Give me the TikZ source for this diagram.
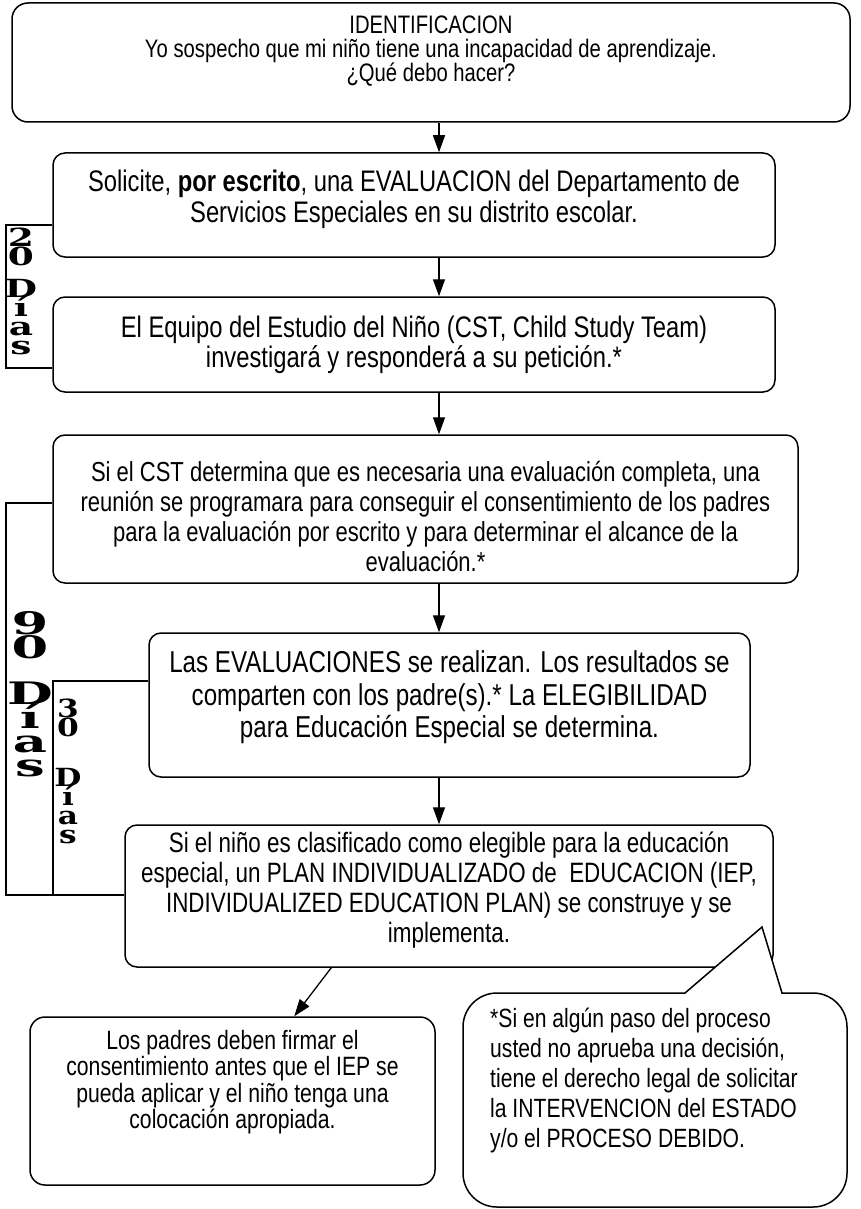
\documentclass[tikz,border=0pt]{standalone}
\usepackage{fontspec}
\setmainfont{Liberation Sans}[FakeStretch=0.8]
\newfontfamily\daysfont{DejaVu Serif}
\usepackage{graphicx}
\usetikzlibrary{arrows.meta,calc}
\def\boxbody#1#2#3#4{\begin{minipage}[c][#2pt][t]{#1pt}\centering\lineskiplimit=-50pt\vspace*{#3pt}#4\end{minipage}}
\def\daystack#1#2{\scalebox{#1}[1]{\parbox{1.2em}{\centering\lineskiplimit=-50pt #2}}}
\tikzset{
	flowbox/.style={draw, line width=1.5pt, rounded corners=12pt, inner sep=0pt},
	arr/.style={line width=1.3pt, -{Triangle[width=12pt,length=17pt]}},
	brk/.style={line width=1.5pt},
	days/.style={anchor=north, inner sep=0pt},
	bubble/.style={draw, line width=1.5pt, fill=white}
}

\begin{document}
\begin{tikzpicture}[x=1pt, y=-1pt]
			%%%%% START %%%%%
			\useasboundingbox (0,0) rectangle (861,1209);
			
			\node[flowbox, rounded corners=16pt, font=\fontsize{25.3}{24}\selectfont] (b1) at (431,62.5) {\boxbody{838}{119}{13}{IDENTIFICACION\\Yo sospecho que mi niño tiene una incapacidad de aprendizaje.\\¿Qué debo hacer?}};
			\node[flowbox, font=\fontsize{29.7}{31}\selectfont] (b2) at (414,205) {\boxbody{722}{104}{17}{Solicite, \textbf{por escrito}, una EVALUACION del Departamento de\\Servicios Especiales en su distrito escolar.}};
			\node[flowbox, font=\fontsize{29.7}{30}\selectfont] (b3) at (414,344.5) {\boxbody{722}{95}{19}{El Equipo del Estudio del Niño (CST, Child Study Team)\\investigará y responderá a su petición.*}};
			\node[flowbox, font=\fontsize{27.5}{30}\selectfont] (b4) at (425.5,509) {\boxbody{745}{148}{26}{Si el CST determina que es necesaria una evaluación completa, una\\reunión se programara para conseguir el consentimiento de los padres\\para la evaluación por escrito y para determinar el alcance de la\\evaluación.*}};
			\node[flowbox, font=\fontsize{30.2}{32.5}\selectfont] (b5) at (449.5,705) {\boxbody{601}{144}{18}{Las EVALUACIONES se realizan. Los resultados se\\comparten con los padre(s).* La ELEGIBILIDAD\\para Educación Especial se determina.}};
			\node[flowbox, font=\fontsize{28}{30}\selectfont] (b6) at (449,896) {\boxbody{648}{142}{7}{Si el niño es clasificado como elegible para la educación\\especial, un PLAN INDIVIDUALIZADO de\ \ EDUCACION (IEP,\\INDIVIDUALIZED EDUCATION PLAN) se construye y se\\implementa.}};
			\node[flowbox, rounded corners=15pt, font=\fontsize{26.5}{26.5}\selectfont] (b7) at (232.5,1101) {\boxbody{405}{168}{13}{Los padres deben firmar el\\consentimiento antes que el IEP se\\pueda aplicar y el niño tenga una\\colocación apropiada.}};
			
			\coordinate (ax) at (439,0);
			\foreach \a/\b in {b1/b2,b2/b3,b3/b4,b4/b5,b5/b6}
				\draw[arr] (\a.south -| ax) -- (\b.north -| ax);
			
			\coordinate (p6) at ($(b6.south west)+(207,0)$);
			\coordinate (p7) at ($(b7.north west)+(265,0)$);
			\draw[arr] (p6) -- (p7);
			
			\draw[bubble] (782,993) [rounded corners=34pt] -- (847,993) -- (847,1207) -- (463,1207) -- (463,993) [sharp corners] -- (685,993) -- (762,927) -- cycle;
			\node[anchor=north west, inner sep=0pt, align=left, font=\fontsize{26.4}{30}\selectfont] (note) at (490,1008) {*Si en algún paso del proceso\\usted no aprueba una decisión,\\tiene el derecho legal de solicitar\\la INTERVENCION del ESTADO\\y/o el PROCESO DEBIDO.};
			
			\coordinate (t20) at (6,225);
			\coordinate (u20) at (6,368);
			\draw[brk] (b2.west |- t20) -- (t20) -- (u20) -- (b3.west |- u20);
			\coordinate (t90) at (6,503);
			\coordinate (u90) at (6,895);
			\draw[brk] (b4.west |- t90) -- (t90) -- (u90) -- (b6.west |- u90);
			\coordinate (t30) at (53,681);
			\coordinate (u30) at (53,895);
			\draw[brk] (b5.west |- t30) -- (t30) -- (u30);
			
			\node[days, font=\daysfont\bfseries\fontsize{25}{19}\selectfont] (d20) at (21,228) {\daystack{1.5}{2\\0\\[13pt]D\\í\\a\\s}};
			\node[days, font=\daysfont\bfseries\fontsize{31}{24}\selectfont] (d90) at (30,611) {\daystack{1.7}{9\\0\\[22pt]D\\í\\a\\s}};
			\node[days, font=\daysfont\bfseries\fontsize{25}{19}\selectfont] (d30) at (68,699) {\daystack{1.25}{3\\0\\[31pt]D\\í\\a\\s}};
			
			%%%%% END %%%%%
\end{tikzpicture}
\end{document}
